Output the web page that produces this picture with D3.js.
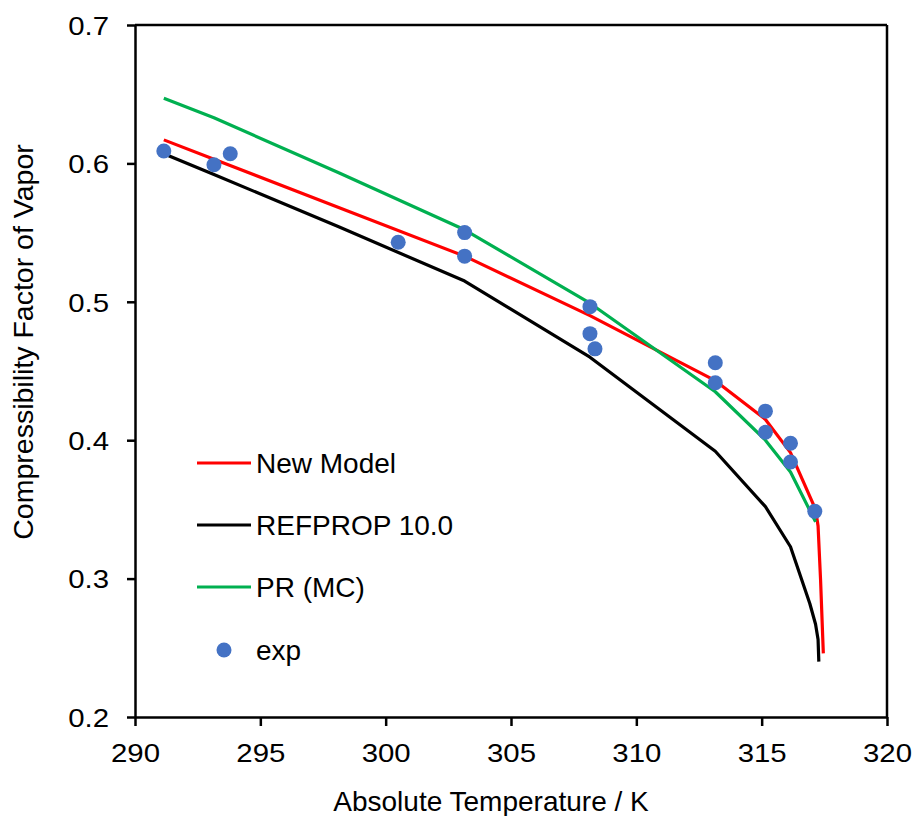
<!DOCTYPE html>
<html>
<head>
<meta charset="utf-8">
<script src="https://cdn.jsdelivr.net/npm/d3@7"></script>
<style>
  html, body { margin: 0; padding: 0; background: #fff; }
  svg text { font-family: "Liberation Sans", Arial, sans-serif; fill: #000; }
</style>
</head>
<body>
<svg id="chart" width="913" height="816"></svg>
<script>
// ---- data ----
const xTicks = [290, 295, 300, 305, 310, 315, 320];
const yTicks = [0.2, 0.3, 0.4, 0.5, 0.6, 0.7];

const newModelT = [291.15, 293.15, 298.15, 303.15, 308.15, 313.15, 315.15, 316.15, 317.15, 317.25, 317.35, 317.46];
const newModelZ = [0.617, 0.603, 0.568, 0.533, 0.490, 0.443, 0.415, 0.391, 0.350, 0.338, 0.299, 0.246];

const refpropT = [291.15, 293.15, 298.15, 303.15, 308.15, 313.15, 315.15, 316.15, 316.92, 317.15, 317.25, 317.28];
const refpropZ = [0.607, 0.592, 0.554, 0.515, 0.460, 0.392, 0.352, 0.323, 0.282, 0.267, 0.256, 0.240];

const prT = [291.15, 293.15, 298.15, 303.15, 308.15, 313.15, 315.15, 316.15, 317.15];
const prZ = [0.647, 0.633, 0.593, 0.552, 0.499, 0.435, 0.400, 0.377, 0.341];

const expT = [291.15, 293.15, 293.8, 300.5, 303.15, 303.15, 308.15, 308.15, 308.35, 313.15, 313.15, 315.15, 315.15, 316.15, 316.15, 317.12];
const expZ = [0.609, 0.599, 0.607, 0.543, 0.550, 0.533, 0.4965, 0.477, 0.466, 0.456, 0.4415, 0.421, 0.4057, 0.3978, 0.3842, 0.3486];

const seriesNames = ["New Model", "REFPROP 10.0", "PR (MC)", "exp"];
const seriesColors = ["#FF0000", "#000000", "#00B050", "#4472C4"];

// ---- layout ----
const svg = d3.select("#chart");
const mLeft = 135, mRight = 887, mTop = 25, mBottom = 717;

const x = d3.scaleLinear().domain([290, 320]).range([mLeft, mRight]);
const y = d3.scaleLinear().domain([0.2, 0.7]).range([mBottom, mTop]);

// axes
const xAxis = d3.axisBottom(x).tickValues(xTicks).tickSize(9).tickSizeOuter(0).tickFormat(d3.format("d"));
const yAxis = d3.axisLeft(y).tickValues(yTicks).tickSize(8).tickSizeOuter(0).tickFormat(d3.format(".1f"));

const gx = svg.append("g").attr("transform", `translate(0,${mBottom})`).call(xAxis);
const gy = svg.append("g").attr("transform", `translate(${mLeft},0)`).call(yAxis);

[gx, gy].forEach(g => {
  g.select(".domain").attr("stroke", "#000").attr("stroke-width", 2.5);
  g.selectAll(".tick line").attr("stroke", "#000").attr("stroke-width", 2.5);
  g.selectAll(".tick text").attr("font-size", 26).attr("font-family", "Liberation Sans, Arial, sans-serif").attr("fill", "#000");
});
gx.selectAll(".tick text").attr("dy", "1.27em");
gy.selectAll(".tick text").attr("x", -26).attr("dy", "0.36em");

// widen tick labels slightly to match the reference glyph widths
[gx, gy].forEach(g => {
  g.selectAll(".tick text").each(function() {
    const w = this.getComputedTextLength();
    d3.select(this).attr("textLength", w * 1.13).attr("lengthAdjust", "spacingAndGlyphs");
  });
});

// box top & right borders
svg.append("line").attr("x1", mLeft).attr("x2", mRight).attr("y1", mTop).attr("y2", mTop)
  .attr("stroke", "#000").attr("stroke-width", 2.5);
svg.append("line").attr("x1", mRight).attr("x2", mRight).attr("y1", mTop).attr("y2", mBottom)
  .attr("stroke", "#000").attr("stroke-width", 2.5);

// lines
const line = d3.line().x(d => x(d[0])).y(d => y(d[1]));
const lineSeries = [
  d3.zip(newModelT, newModelZ),
  d3.zip(refpropT, refpropZ),
  d3.zip(prT, prZ)
];
lineSeries.forEach((s, i) => {
  svg.append("path").datum(s)
    .attr("d", line)
    .attr("fill", "none")
    .attr("stroke", seriesColors[i])
    .attr("stroke-width", 3.2)
    .attr("stroke-linejoin", "round");
});

// exp points
svg.append("g").selectAll("circle")
  .data(d3.zip(expT, expZ))
  .join("circle")
  .attr("cx", d => x(d[0]))
  .attr("cy", d => y(d[1]))
  .attr("r", 7.5)
  .attr("fill", seriesColors[3]);

// axis titles
svg.append("text")
  .attr("x", 491).attr("y", 811)
  .attr("text-anchor", "middle")
  .attr("font-size", 28)
  .text("Absolute Temperature / K");

svg.append("text")
  .attr("transform", "translate(33,342) rotate(-90)")
  .attr("text-anchor", "middle")
  .attr("font-size", 28.5)
  .text("Compressibility Factor of Vapor");

// legend
const legY = [463, 525, 587, 650];
const leg = svg.append("g");
seriesNames.forEach((name, i) => {
  if (i < 3) {
    leg.append("line").attr("x1", 197).attr("x2", 251).attr("y1", legY[i]).attr("y2", legY[i])
      .attr("stroke", seriesColors[i]).attr("stroke-width", 3.2);
  } else {
    leg.append("circle").attr("cx", 224).attr("cy", legY[i]).attr("r", 7.5).attr("fill", seriesColors[i]);
  }
  leg.append("text").attr("x", 256).attr("y", legY[i]).attr("dy", "0.35em")
    .attr("font-size", 28).text(name);
});
</script>
</body>
</html>
